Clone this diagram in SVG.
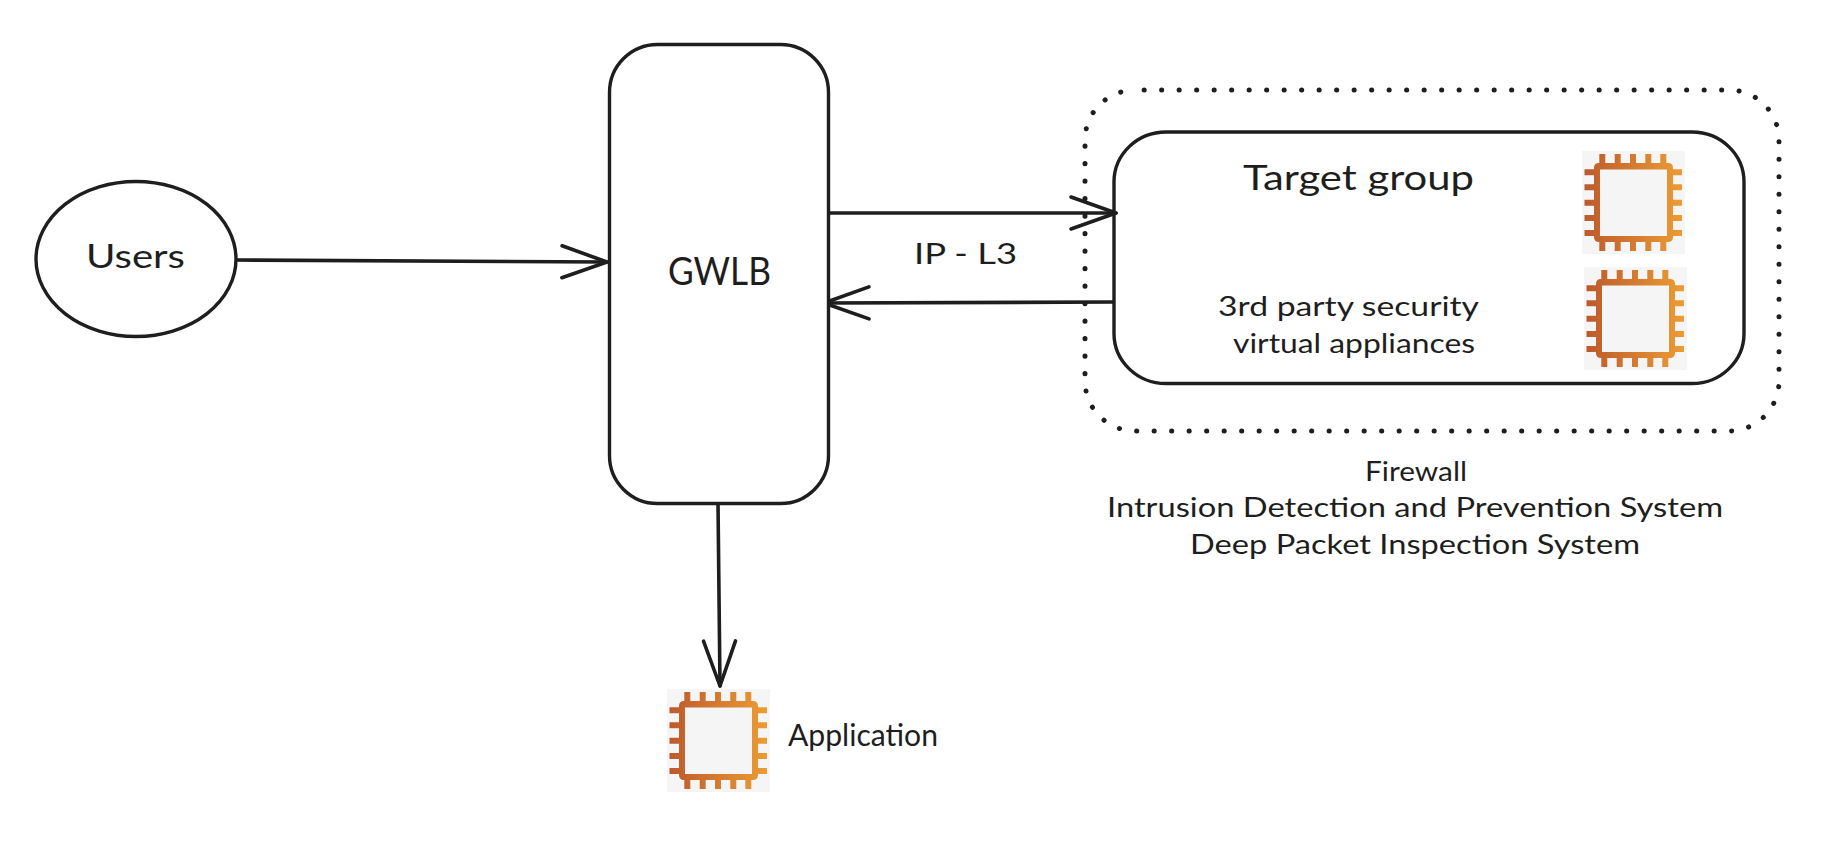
<svg xmlns="http://www.w3.org/2000/svg" xmlns:xlink="http://www.w3.org/1999/xlink" width="1836" height="842" viewBox="0 0 1836 842">
<style>
.shape{fill:#fff;stroke:#1e1e1e;stroke-width:3.4}
.dotted{fill:none;stroke:#1e1e1e;stroke-width:5;stroke-linecap:round;stroke-dasharray:0.1 17.4;stroke-dashoffset:8.4}
.conn{fill:none;stroke:#1e1e1e;stroke-width:3.6;stroke-linecap:round;marker-end:url(#head)}
.head{fill:none;stroke:#1e1e1e;stroke-width:3.6;stroke-linecap:round;stroke-linejoin:round}
text{font-family:"Lato","Noto Sans",sans-serif;fill:#1e1e1e}
</style>
<defs>
<marker id="head" markerUnits="userSpaceOnUse" viewBox="-50 -20 55 40" refX="0" refY="0" markerWidth="55" markerHeight="40" orient="auto">
<path class="head" d="M-45,-16 L0,0 L-45,16"/>
</marker>
<linearGradient id="chipGrad" x1="0" y1="0" x2="1" y2="0">
<stop offset="0" stop-color="#bd5a2c"/><stop offset="1" stop-color="#ec9c34"/>
</linearGradient>
<g id="chip">
<rect width="103" height="103" fill="#f5f5f5"/>
<path fill="url(#chipGrad)" fill-rule="evenodd" d="M17.3,12V3H23.3V12H32.7V3H38.7V12H48V3H54V12H63.3V3H69.3V12H78.3V3H84.3V12H86Q91,12 91,17V18.3H100V24.3H91V33.3H100V39.3H91V48.7H100V54.7H91V64H100V70H91V79H100V85H91V86Q91,91 86,91H84.3V100H78.3V91H69.3V100H63.3V91H54V100H48V91H38.7V100H32.7V91H23.3V100H17.3V91H17Q12,91 12,86V85H2.5V79H12V70H2.5V64H12V54.7H2.5V48.7H12V39.3H2.5V33.3H12V24.3H2.5V18.3H12V17Q12,12 17,12ZM18,18.5V85H85V18.5Z"/>
</g>
</defs>
<rect width="1836" height="842" fill="#fff"/>
<g id="connectors">
<path class="conn" d="M236,260L607,262"/>
<path class="conn" d="M829,213L1116,213"/>
<path class="conn" d="M1113,302L824,303"/>
<path class="conn" d="M718,503L720,686"/>
</g>
<g id="users">
<ellipse class="shape" cx="136" cy="259" rx="100" ry="77.5"/>
<text x="86" y="268" font-size="33" textLength="99" lengthAdjust="spacingAndGlyphs">Users</text>
</g>
<g id="gwlb">
<rect class="shape" x="609.5" y="44.5" width="219" height="459" rx="48" ry="48"/>
<text x="668" y="285" font-size="38" textLength="103" lengthAdjust="spacingAndGlyphs">GWLB</text>
</g>
<g id="firewall-boundary">
<rect class="dotted" x="1085" y="90" width="694" height="341" rx="50" ry="50"/>
</g>
<g id="target-group">
<rect class="shape" x="1114" y="132" width="630" height="251.5" rx="52" ry="50" fill-opacity="0"/>
<text x="1243" y="190" font-size="34" textLength="231" lengthAdjust="spacingAndGlyphs">Target group</text>
<text x="1218" y="316" font-size="27" textLength="261" lengthAdjust="spacingAndGlyphs">3rd party security</text>
<text x="1233" y="353" font-size="27" textLength="242" lengthAdjust="spacingAndGlyphs">virtual appliances</text>
</g>
<g id="appliance-1"><use xlink:href="#chip" href="#chip" x="1582" y="151"/></g>
<g id="appliance-2"><use xlink:href="#chip" href="#chip" x="1584" y="267"/></g>
<g id="ip-l3"><text x="914" y="264" font-size="28" textLength="103" lengthAdjust="spacingAndGlyphs">IP - L3</text></g>
<g id="application">
<use xlink:href="#chip" href="#chip" x="667" y="689"/>
<text x="788" y="746" font-size="30" textLength="150" lengthAdjust="spacingAndGlyphs">Application</text>
</g>
<g id="firewall-label">
<text x="1365" y="481" font-size="27" textLength="102" lengthAdjust="spacingAndGlyphs">Firewall</text>
<text x="1107" y="517" font-size="27" textLength="616" lengthAdjust="spacingAndGlyphs">Intrusion Detection and Prevention System</text>
<text x="1190" y="554" font-size="27" textLength="450" lengthAdjust="spacingAndGlyphs">Deep Packet Inspection System</text>
</g>
</svg>
